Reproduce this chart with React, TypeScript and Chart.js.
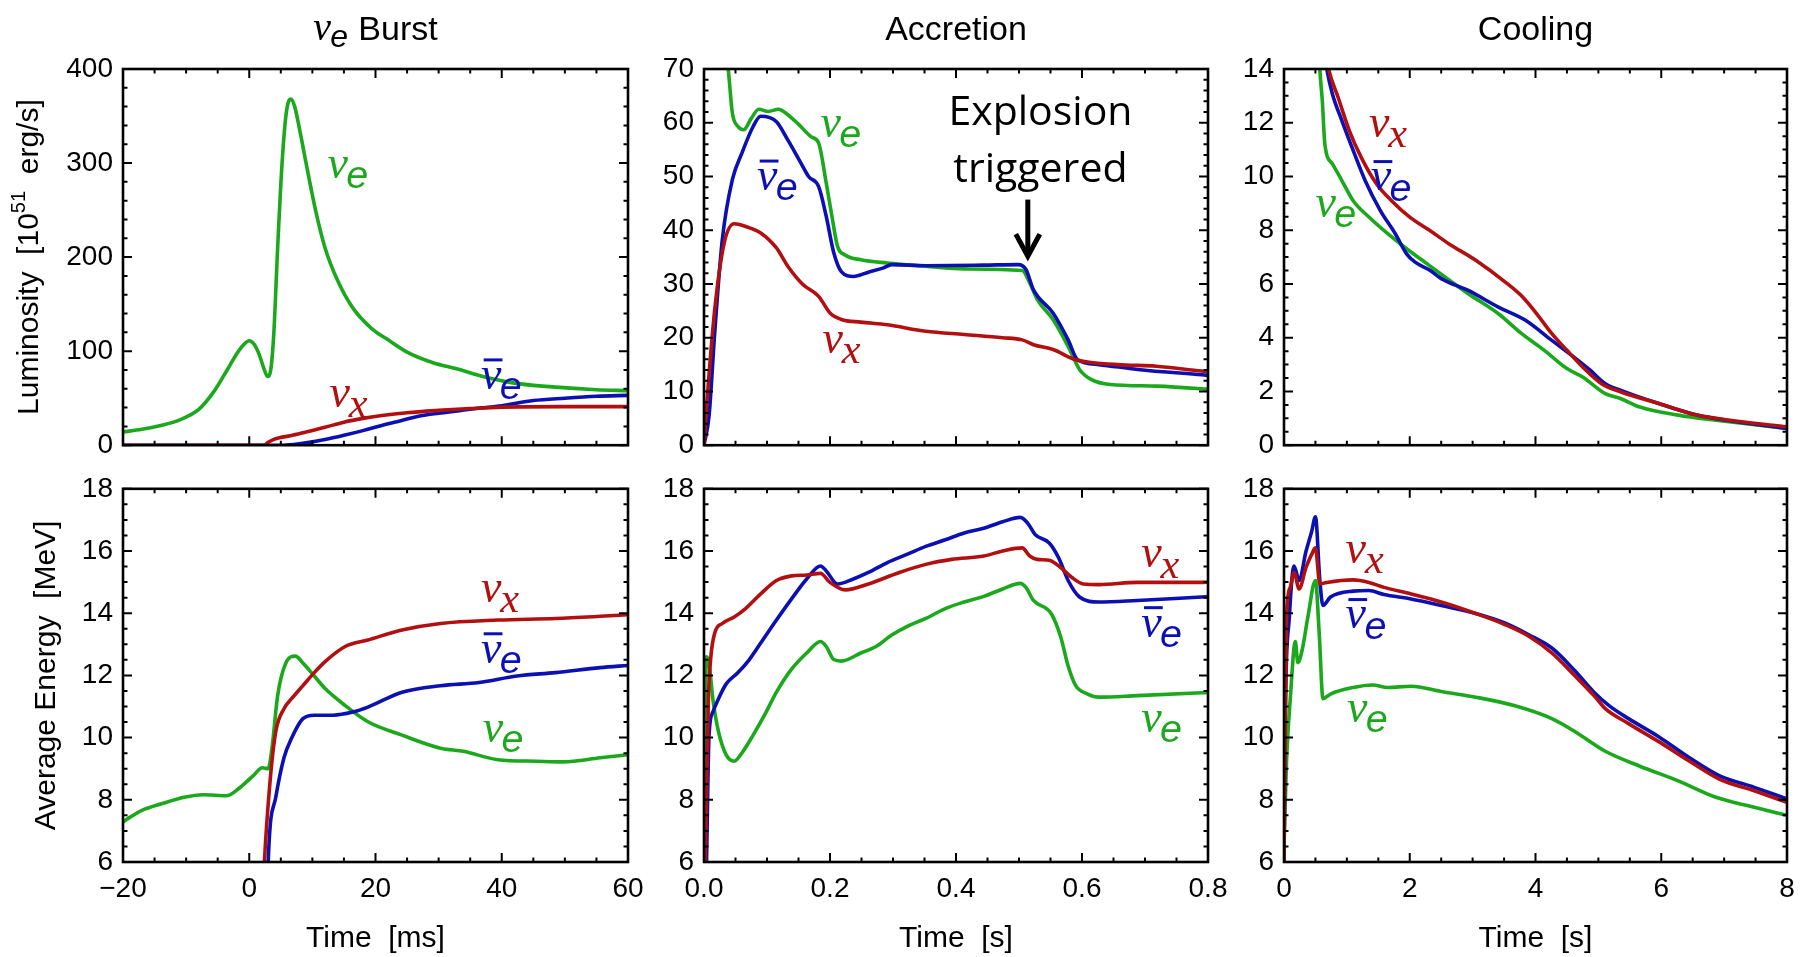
import React, { useEffect, useRef } from "react";
import { Chart, registerables } from "chart.js";

Chart.register(...registerables);

// ---------------- colours & fonts ----------------
const GREEN = "rgb(28,168,28)";
const BLUE = "rgb(12,16,178)";
const RED = "rgb(178,16,16)";
const SANS = '"Liberation Sans", Arial, Helvetica, sans-serif';
const SERIF = '"Liberation Serif", "Times New Roman", serif';

// ---------------- data: nu_e burst, luminosity (t in ms, L in 1e51 erg/s) ----------------
const burstLumNuE_t = [-20, -17, -14, -11, -8, -5.5, -3.5, -2, -1, 0, 0.8, 1.6, 2.3, 2.9, 3.4, 3.9, 4.5, 5.2, 5.9, 6.6, 7.2, 8, 9, 10.5, 12, 14, 16.4, 19.4, 22, 25, 29, 33, 37, 42, 48, 55, 60];
const burstLumNuE = [14, 17, 21, 27, 38, 58, 80, 97, 106, 111, 107, 96, 82, 73, 80, 120, 210, 300, 355, 368, 360, 335, 300, 250, 210, 175, 146, 124, 112, 99, 88, 81, 73, 66, 62, 59, 58];
const burstLumNuX_t = [-20, 2.3, 3, 3.8, 4.8, 6.5, 9, 12, 15, 18, 21, 25, 30, 35, 40, 50, 60];
const burstLumNuX = [0, 0, 3, 6, 8, 10, 14, 19, 24.5, 28.5, 31.5, 34.5, 37, 39, 40.5, 41, 41];
const burstLumAnti_t = [-20, 5, 7, 9, 12, 15, 18, 21, 24, 27, 30, 33, 36, 40, 45, 50, 55, 60];
const burstLumAnti = [0, 0, 0.8, 2.5, 6, 10.5, 15.5, 21, 26, 31, 34, 36.5, 39, 42, 47.5, 50, 52, 53];

// ---------------- data: accretion, luminosity (t in s) ----------------
const accLumNuE_t = [0.003, 0.035, 0.038, 0.045, 0.054, 0.063, 0.075, 0.087, 0.102, 0.118, 0.133, 0.151, 0.17, 0.182, 0.194, 0.203, 0.212, 0.224, 0.249, 0.291, 0.352, 0.413, 0.505, 0.517, 0.529, 0.554, 0.578, 0.596, 0.615, 0.645, 0.718, 0.79, 0.8];
const accLumNuE = [110, 72, 70.4, 61.8, 59.3, 58.7, 60.8, 62.5, 62.1, 62.5, 61.5, 59.6, 57.4, 56.2, 48.8, 42.6, 37, 35.4, 34.5, 33.9, 33.3, 32.8, 32.5, 30.2, 27.1, 23.4, 18.4, 14.1, 12.2, 11.3, 11, 10.5, 10.4];
const accLumAnti_t = [0, 0.008, 0.017, 0.029, 0.045, 0.06, 0.078, 0.09, 0.115, 0.133, 0.151, 0.166, 0.182, 0.194, 0.206, 0.218, 0.237, 0.261, 0.285, 0.298, 0.352, 0.444, 0.499, 0.511, 0.523, 0.554, 0.578, 0.593, 0.627, 0.688, 0.79, 0.8];
const accLumAnti = [0, 5.4, 20.9, 38.2, 49.4, 54.3, 59.3, 61.2, 60.2, 56.8, 53.1, 50, 48.1, 42.6, 35.8, 32.3, 31.4, 32.2, 33, 33.6, 33.4, 33.5, 33.6, 32.7, 28.9, 24.6, 19.6, 15.9, 15, 14.1, 13.1, 13];
const accLumNuX_t = [0, 0.007, 0.017, 0.032, 0.048, 0.066, 0.09, 0.115, 0.133, 0.157, 0.182, 0.2, 0.218, 0.249, 0.291, 0.352, 0.413, 0.474, 0.505, 0.523, 0.554, 0.59, 0.657, 0.718, 0.79, 0.8];
const accLumNuX = [0, 11.6, 25.2, 37.6, 41.2, 40.7, 39.5, 36.7, 33.3, 29.9, 27.7, 24.6, 23.4, 22.9, 22.4, 21.2, 20.6, 20, 19.6, 18.7, 17.8, 15.9, 15, 14.7, 13.8, 13.7];

// ---------------- data: cooling, luminosity (t in s) ----------------
const coolLumNuX_t = [0.5, 0.71, 0.86, 1.04, 1.23, 1.47, 1.71, 2, 2.32, 2.62, 3.05, 3.53, 3.78, 4.02, 4.26, 4.5, 4.75, 5.05, 5.36, 5.96, 6.57, 7.18, 8];
const coolLumNuX = [17, 14, 12.95, 11.7, 10.7, 9.73, 9.1, 8.49, 7.99, 7.5, 6.88, 6.05, 5.55, 4.89, 4.15, 3.53, 2.91, 2.29, 1.98, 1.55, 1.12, 0.9, 0.68];
const coolLumAnti_t = [0.55, 0.68, 0.77, 0.92, 1.1, 1.29, 1.53, 1.77, 1.95, 2.08, 2.32, 2.5, 2.93, 3.41, 3.84, 4.26, 4.57, 4.87, 5.11, 5.36, 5.96, 6.57, 8];
const coolLumAnti = [16, 14, 13.07, 12.08, 10.97, 9.85, 8.74, 7.87, 7.12, 6.82, 6.51, 6.2, 5.76, 5.14, 4.65, 3.9, 3.35, 2.79, 2.29, 2.04, 1.55, 1.12, 0.62];
const coolLumNuE_t = [0.5, 0.57, 0.61, 0.65, 0.77, 0.92, 1.1, 1.35, 1.65, 1.95, 2.2, 2.56, 2.93, 3.41, 3.78, 4.14, 4.5, 4.75, 5.11, 5.36, 5.66, 6.27, 6.87, 8];
const coolLumNuE = [18, 14, 12.8, 11.2, 10.47, 9.85, 9.1, 8.49, 7.87, 7.31, 6.88, 6.26, 5.64, 4.89, 4.15, 3.53, 2.85, 2.54, 1.92, 1.73, 1.42, 1.12, 0.93, 0.62];

// ---------------- data: nu_e burst, average energy (MeV) ----------------
const burstEnNuE_t = [-20, -18.8, -17, -13.9, -10.3, -7.3, -3.6, -1.8, 0.6, 2.1, 3, 3.6, 4.5, 5.8, 7.3, 8.5, 10.3, 12.1, 15.2, 18.8, 24.2, 30.3, 33.9, 39.4, 45.5, 49.7, 55.6, 60];
const burstEnNuE = [7.29, 7.45, 7.66, 7.87, 8.08, 8.16, 8.13, 8.34, 8.77, 9.03, 9.0, 9.66, 11.35, 12.4, 12.62, 12.4, 11.98, 11.56, 11.03, 10.51, 10.08, 9.66, 9.56, 9.29, 9.24, 9.22, 9.35, 9.45];
const burstEnNuX_t = [2.2, 2.4, 3.3, 4.2, 5.5, 6.7, 8.5, 10.3, 12.1, 15.2, 18.8, 24.2, 30.3, 39.4, 48.5, 55.6, 60];
const burstEnNuX = [5, 6, 8.6, 10.19, 10.93, 11.25, 11.67, 12.09, 12.46, 12.93, 13.14, 13.46, 13.67, 13.78, 13.83, 13.9, 13.95];
const burstEnAnti_t = [2.9, 3.0, 4.2, 5.5, 6.7, 8.5, 10.3, 13.3, 16.4, 18.8, 24.2, 30.3, 36.4, 42.4, 48.5, 55.6, 60];
const burstEnAnti = [5, 6, 8.08, 9.35, 9.98, 10.61, 10.72, 10.72, 10.82, 10.98, 11.46, 11.67, 11.77, 11.98, 12.09, 12.25, 12.32];

// ---------------- data: accretion, average energy ----------------
const accEnNuE_t = [0, 0.004, 0.008, 0.014, 0.023, 0.035, 0.048, 0.06, 0.078, 0.096, 0.115, 0.139, 0.163, 0.185, 0.194, 0.206, 0.218, 0.249, 0.273, 0.298, 0.322, 0.352, 0.383, 0.413, 0.444, 0.474, 0.502, 0.511, 0.523, 0.551, 0.566, 0.578, 0.59, 0.609, 0.627, 0.688, 0.79, 0.8];
const accEnNuE = [8.5, 12.6, 12.4, 11.25, 10.19, 9.45, 9.24, 9.5, 10.08, 10.72, 11.46, 12.2, 12.72, 13.09, 12.93, 12.51, 12.46, 12.72, 12.93, 13.3, 13.57, 13.83, 14.15, 14.36, 14.54, 14.78, 14.96, 14.83, 14.41, 13.99, 13.25, 12.3, 11.67, 11.4, 11.3, 11.35, 11.44, 11.45];
const accEnAnti_t = [0.004, 0.008, 0.014, 0.023, 0.035, 0.054, 0.072, 0.09, 0.115, 0.139, 0.163, 0.185, 0.194, 0.212, 0.237, 0.261, 0.291, 0.322, 0.352, 0.383, 0.413, 0.444, 0.474, 0.502, 0.514, 0.526, 0.548, 0.563, 0.578, 0.596, 0.627, 0.688, 0.79, 0.8];
const accEnAnti = [6, 10.08, 10.82, 11.25, 11.72, 12.09, 12.51, 13.04, 13.78, 14.46, 15.1, 15.52, 15.36, 14.94, 15.1, 15.31, 15.63, 15.89, 16.15, 16.36, 16.58, 16.73, 16.94, 17.08, 16.89, 16.52, 16.26, 15.78, 15.05, 14.52, 14.36, 14.41, 14.52, 14.53];
const accEnNuX_t = [0.002, 0.007, 0.011, 0.017, 0.029, 0.048, 0.066, 0.09, 0.115, 0.139, 0.163, 0.185, 0.2, 0.224, 0.261, 0.31, 0.352, 0.393, 0.444, 0.474, 0.505, 0.517, 0.529, 0.548, 0.566, 0.584, 0.602, 0.627, 0.688, 0.79, 0.8];
const accEnNuX = [6, 11.25, 12.62, 13.36, 13.67, 13.88, 14.15, 14.62, 15.05, 15.2, 15.23, 15.28, 14.99, 14.75, 14.94, 15.31, 15.57, 15.73, 15.84, 16, 16.1, 15.84, 15.73, 15.7, 15.47, 15.15, 14.94, 14.92, 14.99, 14.99, 15];

// ---------------- data: cooling, average energy ----------------
const coolEnNuX_t = [0, 0.04, 0.1, 0.16, 0.24, 0.35, 0.44, 0.5, 0.57, 0.68, 1.1, 1.35, 1.59, 2.02, 2.5, 3.05, 3.53, 3.9, 4.26, 4.63, 4.93, 5.11, 5.48, 5.96, 6.45, 6.93, 7.48, 8];
const coolEnNuX = [6, 13.88, 14.83, 15.31, 14.78, 15.47, 15.89, 16.1, 14.94, 14.99, 15.07, 14.99, 14.83, 14.62, 14.36, 13.99, 13.62, 13.25, 12.72, 11.98, 11.35, 10.93, 10.45, 9.87, 9.24, 8.66, 8.29, 7.92];
const coolEnAnti_t = [0, 0.02, 0.085, 0.16, 0.24, 0.35, 0.44, 0.5, 0.57, 0.62, 0.74, 1.1, 1.35, 1.59, 2.02, 2.5, 3.05, 3.53, 3.9, 4.26, 4.63, 4.93, 5.17, 5.48, 5.96, 6.45, 6.93, 7.48, 8];
const coolEnAnti = [6, 10.72, 13.88, 15.52, 15.05, 15.99, 16.63, 17.1, 15.05, 14.25, 14.52, 14.71, 14.73, 14.6, 14.46, 14.25, 13.99, 13.67, 13.3, 12.88, 12.14, 11.46, 11.03, 10.61, 10.03, 9.35, 8.77, 8.4, 8.03];
const coolEnNuE_t = [0, 0.04, 0.1, 0.18, 0.22, 0.29, 0.38, 0.5, 0.56, 0.62, 0.74, 1.1, 1.41, 1.65, 2.02, 2.5, 3.05, 3.66, 4.26, 4.63, 5.11, 5.66, 6.27, 6.87, 7.48, 8];
const coolEnNuE = [6.5, 9.24, 11.25, 13.09, 12.41, 12.83, 13.88, 15.05, 13.36, 11.25, 11.4, 11.61, 11.69, 11.61, 11.65, 11.48, 11.3, 11.03, 10.61, 10.19, 9.56, 9.08, 8.61, 8.08, 7.76, 7.5];

// ---------------- axis ranges / tick labels ----------------
const burstTimeTicks = [-20, 0, 20, 40, 60];
const accTimeTicks = [0, 0.2, 0.4, 0.6, 0.8];
const coolTimeTicks = [0, 2, 4, 6, 8];
const burstLumTicks = [0, 100, 200, 300, 400];
const accLumTicks = [0, 10, 20, 30, 40, 50, 60, 70];
const coolLumTicks = [0, 2, 4, 6, 8, 10, 12, 14];
const energyTicks = [6, 8, 10, 12, 14, 16, 18];

const panelTitles = ["Burst", "Accretion", "Cooling"];
const xTitles = ["Time  [ms]", "Time  [s]", "Time  [s]"];

// ---------------- layout (pixels) ----------------
const COLS = [
  [123, 628],
  [704, 1208],
  [1284, 1787],
];
const ROWS = [
  [69, 448],
  [486, 862],
];

type LabelKind = "e" | "x" | "ebar";
interface Lbl { kind: LabelKind; color: string; x: number; y: number }
interface Series { t: number[]; v: number[]; color: string }
interface Panel {
  col: number;
  row: number;
  xTicks: number[];
  xMinor: number;
  yTicks: number[];
  yMinor: number;
  xFmt: (v: number) => string;
  series: Series[];
  labels: Lbl[];
  explosion?: boolean;
}

const fmtInt = (v: number) => (v < 0 ? "\u2212" + Math.abs(v) : String(v));
const fmt1 = (v: number) => v.toFixed(1);

const PANELS: Panel[] = [
  {
    col: 0, row: 0, xTicks: burstTimeTicks, xMinor: 5, yTicks: burstLumTicks, yMinor: 20, xFmt: fmtInt,
    series: [
      { t: burstLumNuX_t, v: burstLumNuX, color: RED },
      { t: burstLumAnti_t, v: burstLumAnti, color: BLUE },
      { t: burstLumNuE_t, v: burstLumNuE, color: GREEN },
    ],
    labels: [
      { kind: "e", color: GREEN, x: 12.4, y: 284 },
      { kind: "x", color: RED, x: 12.7, y: 41 },
      { kind: "ebar", color: BLUE, x: 36.7, y: 60 },
    ],
  },
  {
    col: 1, row: 0, xTicks: accTimeTicks, xMinor: 0.05, yTicks: accLumTicks, yMinor: 2, xFmt: fmt1,
    series: [
      { t: accLumNuX_t, v: accLumNuX, color: RED },
      { t: accLumAnti_t, v: accLumAnti, color: BLUE },
      { t: accLumNuE_t, v: accLumNuE, color: GREEN },
    ],
    labels: [
      { kind: "e", color: GREEN, x: 0.185, y: 57.4 },
      { kind: "ebar", color: BLUE, x: 0.084, y: 47.5 },
      { kind: "x", color: RED, x: 0.188, y: 17.2 },
    ],
    explosion: true,
  },
  {
    col: 2, row: 0, xTicks: coolTimeTicks, xMinor: 0.5, yTicks: coolLumTicks, yMinor: 0.5, xFmt: fmtInt,
    series: [
      { t: coolLumNuX_t, v: coolLumNuX, color: RED },
      { t: coolLumAnti_t, v: coolLumAnti, color: BLUE },
      { t: coolLumNuE_t, v: coolLumNuE, color: GREEN },
    ],
    labels: [
      { kind: "x", color: RED, x: 1.35, y: 11.46 },
      { kind: "ebar", color: BLUE, x: 1.38, y: 9.48 },
      { kind: "e", color: GREEN, x: 0.5, y: 8.49 },
    ],
  },
  {
    col: 0, row: 1, xTicks: burstTimeTicks, xMinor: 5, yTicks: energyTicks, yMinor: 0.5, xFmt: fmtInt,
    series: [
      { t: burstEnNuX_t, v: burstEnNuX, color: RED },
      { t: burstEnAnti_t, v: burstEnAnti, color: BLUE },
      { t: burstEnNuE_t, v: burstEnNuE, color: GREEN },
    ],
    labels: [
      { kind: "x", color: RED, x: 36.7, y: 14.36 },
      { kind: "ebar", color: BLUE, x: 36.7, y: 12.41 },
      { kind: "e", color: GREEN, x: 37, y: 9.87 },
    ],
  },
  {
    col: 1, row: 1, xTicks: accTimeTicks, xMinor: 0.05, yTicks: energyTicks, yMinor: 0.5, xFmt: fmt1,
    series: [
      { t: accEnNuX_t, v: accEnNuX, color: RED },
      { t: accEnAnti_t, v: accEnAnti, color: BLUE },
      { t: accEnNuE_t, v: accEnNuE, color: GREEN },
    ],
    labels: [
      { kind: "x", color: RED, x: 0.694, y: 15.47 },
      { kind: "ebar", color: BLUE, x: 0.694, y: 13.25 },
      { kind: "e", color: GREEN, x: 0.694, y: 10.19 },
    ],
  },
  {
    col: 2, row: 1, xTicks: coolTimeTicks, xMinor: 0.5, yTicks: energyTicks, yMinor: 0.5, xFmt: fmtInt,
    series: [
      { t: coolEnNuX_t, v: coolEnNuX, color: RED },
      { t: coolEnAnti_t, v: coolEnAnti, color: BLUE },
      { t: coolEnNuE_t, v: coolEnNuE, color: GREEN },
    ],
    labels: [
      { kind: "x", color: RED, x: 0.98, y: 15.63 },
      { kind: "ebar", color: BLUE, x: 0.98, y: 13.51 },
      { kind: "e", color: GREEN, x: 1.0, y: 10.51 },
    ],
  },
];

// margins around each plot area inside its canvas: [left, top, right, bottom]
function marginsFor(p: Panel): [number, number, number, number] {
  return p.row === 0 ? [120, 69, 30, 24] : [120, 24, 30, 95];
}

// ---------------- drawing helpers ----------------
function drawNu(ctx: CanvasRenderingContext2D, px: number, py: number, kind: LabelKind, color: string, size: number) {
  ctx.save();
  ctx.fillStyle = color;
  ctx.textAlign = "left";
  ctx.textBaseline = "alphabetic";
  ctx.font = `italic ${size}px ${SERIF}`;
  ctx.fillText("\u03BD", px, py);
  const w = ctx.measureText("\u03BD").width;
  if (kind === "ebar") {
    ctx.fillRect(px + size * 0.06, py - size * 0.66, w * 0.92, Math.max(2, size * 0.065));
  }
  if (kind === "x") {
    ctx.font = `italic ${size * 0.92}px ${SERIF}`;
    ctx.fillText("x", px + w * 0.95, py + size * 0.22);
  } else {
    ctx.font = `italic ${size * 0.86}px ${SANS}`;
    ctx.fillText("e", px + w * 0.92, py + size * 0.22);
  }
  ctx.restore();
}

function stepValues(min: number, max: number, step: number) {
  const n = Math.round((max - min) / step);
  const out: number[] = [];
  for (let i = 0; i <= n; i++) out.push(min + i * step);
  return out;
}

function buildConfig(p: Panel) {
  const [ml, mt, mr, mb] = marginsFor(p);
  const xMin = p.xTicks[0];
  const xMax = p.xTicks[p.xTicks.length - 1];
  const yMin = p.yTicks[0];
  const yMax = p.yTicks[p.yTicks.length - 1];
  const xMajor = p.xTicks[1] - p.xTicks[0];
  const yMajor = p.yTicks[1] - p.yTicks[0];
  const tickFont = { family: SANS, size: 28 };

  const framePlugin = {
    id: "frameTicks" + p.col + p.row,
    afterDatasetsDraw(chart: any) {
      const { ctx, chartArea } = chart;
      const { left, top, right, bottom } = chartArea;
      const xs = chart.scales.x;
      const ys = chart.scales.y;
      ctx.save();
      ctx.strokeStyle = "#000";
      ctx.lineWidth = 2;
      const isMajor = (v: number, maj: number, base: number) => {
        const r = (v - base) / maj;
        return Math.abs(r - Math.round(r)) < 1e-6;
      };
      for (const v of stepValues(xMin, xMax, p.xMinor)) {
        const px = xs.getPixelForValue(v);
        const len = isMajor(v, xMajor, xMin) ? 9 : 4.5;
        ctx.beginPath();
        ctx.moveTo(px, bottom);
        ctx.lineTo(px, bottom - len);
        ctx.moveTo(px, top);
        ctx.lineTo(px, top + len);
        ctx.stroke();
      }
      for (const v of stepValues(yMin, yMax, p.yMinor)) {
        const py = ys.getPixelForValue(v);
        const len = isMajor(v, yMajor, yMin) ? 9 : 4.5;
        ctx.beginPath();
        ctx.moveTo(left, py);
        ctx.lineTo(left + len, py);
        ctx.moveTo(right, py);
        ctx.lineTo(right - len, py);
        ctx.stroke();
      }
      ctx.lineWidth = 2.6;
      ctx.strokeRect(left, top, right - left, bottom - top);
      ctx.restore();

      // curve labels
      for (const l of p.labels) {
        drawNu(ctx, xs.getPixelForValue(l.x), ys.getPixelForValue(l.y), l.kind, l.color, 46);
      }

      // explosion annotation
      if (p.explosion) {
        ctx.save();
        ctx.fillStyle = "#000";
        ctx.textAlign = "center";
        ctx.textBaseline = "alphabetic";
        ctx.font = `41px "Open Sans", ${SANS}`;
        const cx = xs.getPixelForValue(0.534);
        ctx.fillText("Explosion", cx, ys.getPixelForValue(59.6));
        ctx.fillText("triggered", cx, ys.getPixelForValue(49));
        const ax = xs.getPixelForValue(0.514);
        const y0 = ys.getPixelForValue(45.7);
        const y1 = ys.getPixelForValue(34.8);
        ctx.strokeStyle = "#000";
        ctx.lineWidth = 5;
        ctx.lineCap = "butt";
        ctx.beginPath();
        ctx.moveTo(ax, y0);
        ctx.lineTo(ax, y1 - 3);
        ctx.stroke();
        ctx.beginPath();
        ctx.lineJoin = "miter";
        ctx.moveTo(ax - 12, y1 - 24);
        ctx.lineTo(ax, y1 - 2);
        ctx.lineTo(ax + 12, y1 - 24);
        ctx.stroke();
        ctx.restore();
      }

      // panel titles (top row)
      if (p.row === 0) {
        const cx = (left + right) / 2;
        const base = top - 29;
        ctx.save();
        ctx.fillStyle = "#000";
        ctx.textBaseline = "alphabetic";
        if (p.col === 0) {
          ctx.font = `italic 40px ${SERIF}`;
          const wNu = ctx.measureText("\u03BD").width;
          ctx.font = `italic 32px ${SANS}`;
          const wE = ctx.measureText("e").width;
          ctx.font = `34px ${SANS}`;
          const wB = ctx.measureText(" " + panelTitles[0]).width;
          const total = wNu + wE + wB;
          const x0 = cx - total / 2;
          ctx.textAlign = "left";
          ctx.font = `italic 40px ${SERIF}`;
          ctx.fillText("\u03BD", x0, base);
          ctx.font = `italic 32px ${SANS}`;
          ctx.fillText("e", x0 + wNu * 0.95, base + 7);
          ctx.font = `34px ${SANS}`;
          ctx.fillText(" " + panelTitles[0], x0 + wNu + wE, base);
        } else {
          ctx.textAlign = "center";
          ctx.font = `34px ${SANS}`;
          ctx.fillText(panelTitles[p.col], cx, base);
        }
        ctx.restore();
      }

      // y axis titles (left column)
      if (p.col === 0) {
        ctx.save();
        ctx.fillStyle = "#000";
        ctx.textBaseline = "alphabetic";
        ctx.textAlign = "left";
        const cy = (top + bottom) / 2;
        if (p.row === 0) {
          const bx = left - 85;
          ctx.translate(bx, cy);
          ctx.rotate(-Math.PI / 2);
          const segs = [
            { t: "Luminosity  [10", s: 30, dy: 0 },
            { t: "51", s: 20, dy: -13 },
            { t: "  erg/s]", s: 30, dy: 0 },
          ];
          let total = 0;
          for (const s of segs) {
            ctx.font = `${s.s}px ${SANS}`;
            total += ctx.measureText(s.t).width;
          }
          let x = -total / 2;
          for (const s of segs) {
            ctx.font = `${s.s}px ${SANS}`;
            ctx.fillText(s.t, x, s.dy);
            x += ctx.measureText(s.t).width;
          }
        } else {
          const bx = left - 68;
          ctx.translate(bx, cy);
          ctx.rotate(-Math.PI / 2);
          ctx.textAlign = "center";
          ctx.font = `30px ${SANS}`;
          ctx.fillText("Average Energy  [MeV]", 0, 0);
        }
        ctx.restore();
      }
    },
  };

  const datasets = p.series.map((s) => ({
    data: s.t.map((t, i) => ({ x: t, y: s.v[i] })),
    borderColor: s.color,
    backgroundColor: s.color,
    borderWidth: 3.6,
    pointRadius: 0,
    fill: false,
    cubicInterpolationMode: "monotone" as const,
  }));

  return {
    type: "line" as const,
    data: { datasets },
    options: {
      animation: false,
      responsive: false,
      maintainAspectRatio: false,
      layout: { padding: { left: 0, top: mt, right: mr, bottom: 0 } },
      plugins: { legend: { display: false }, tooltip: { enabled: false }, title: { display: false } },
      scales: {
        x: {
          type: "linear",
          position: "bottom",
          min: xMin,
          max: xMax,
          grid: { display: false, drawTicks: false, tickLength: 0 },
          border: { display: false },
          ticks: {
            display: p.row === 1,
            stepSize: xMajor,
            autoSkip: false,
            maxRotation: 0,
            padding: 10,
            color: "#000",
            font: tickFont,
            callback: (v: any) => p.xFmt(Number(v)),
          },
          title: {
            display: p.row === 1,
            text: xTitles[p.col],
            color: "#000",
            font: { family: SANS, size: 30 },
            padding: { top: 0, bottom: 0 },
          },
          afterFit: (scale: any) => {
            scale.height = mb;
          },
        },
        y: {
          type: "linear",
          position: "left",
          min: yMin,
          max: yMax,
          grid: { display: false, drawTicks: false, tickLength: 0 },
          border: { display: false },
          ticks: {
            stepSize: yMajor,
            autoSkip: false,
            padding: 10,
            color: "#000",
            font: tickFont,
            callback: (v: any) => String(v),
          },
          afterFit: (scale: any) => {
            scale.width = ml;
          },
        },
      },
    },
    plugins: [framePlugin],
  };
}

function PanelChart({ p }: { p: Panel }) {
  const ref = useRef<HTMLCanvasElement | null>(null);
  const [ml, mt, mr, mb] = marginsFor(p);
  const [L, R] = COLS[p.col];
  const [T, B] = ROWS[p.row];
  const w = R - L + ml + mr;
  const h = B - T + mt + mb;
  useEffect(() => {
    if (!ref.current) return;
    const chart = new Chart(ref.current, buildConfig(p) as any);
    return () => chart.destroy();
  }, []);
  return (
    <canvas
      ref={ref}
      width={w}
      height={h}
      style={{ position: "absolute", left: L - ml, top: T - mt, width: w, height: h }}
    />
  );
}

export default function App() {
  return (
    <div style={{ position: "absolute", left: 0, top: 0, width: 1800, height: 957, background: "#fff", overflow: "hidden" }}>
      {PANELS.map((p, i) => (
        <PanelChart key={i} p={p} />
      ))}
    </div>
  );
}
